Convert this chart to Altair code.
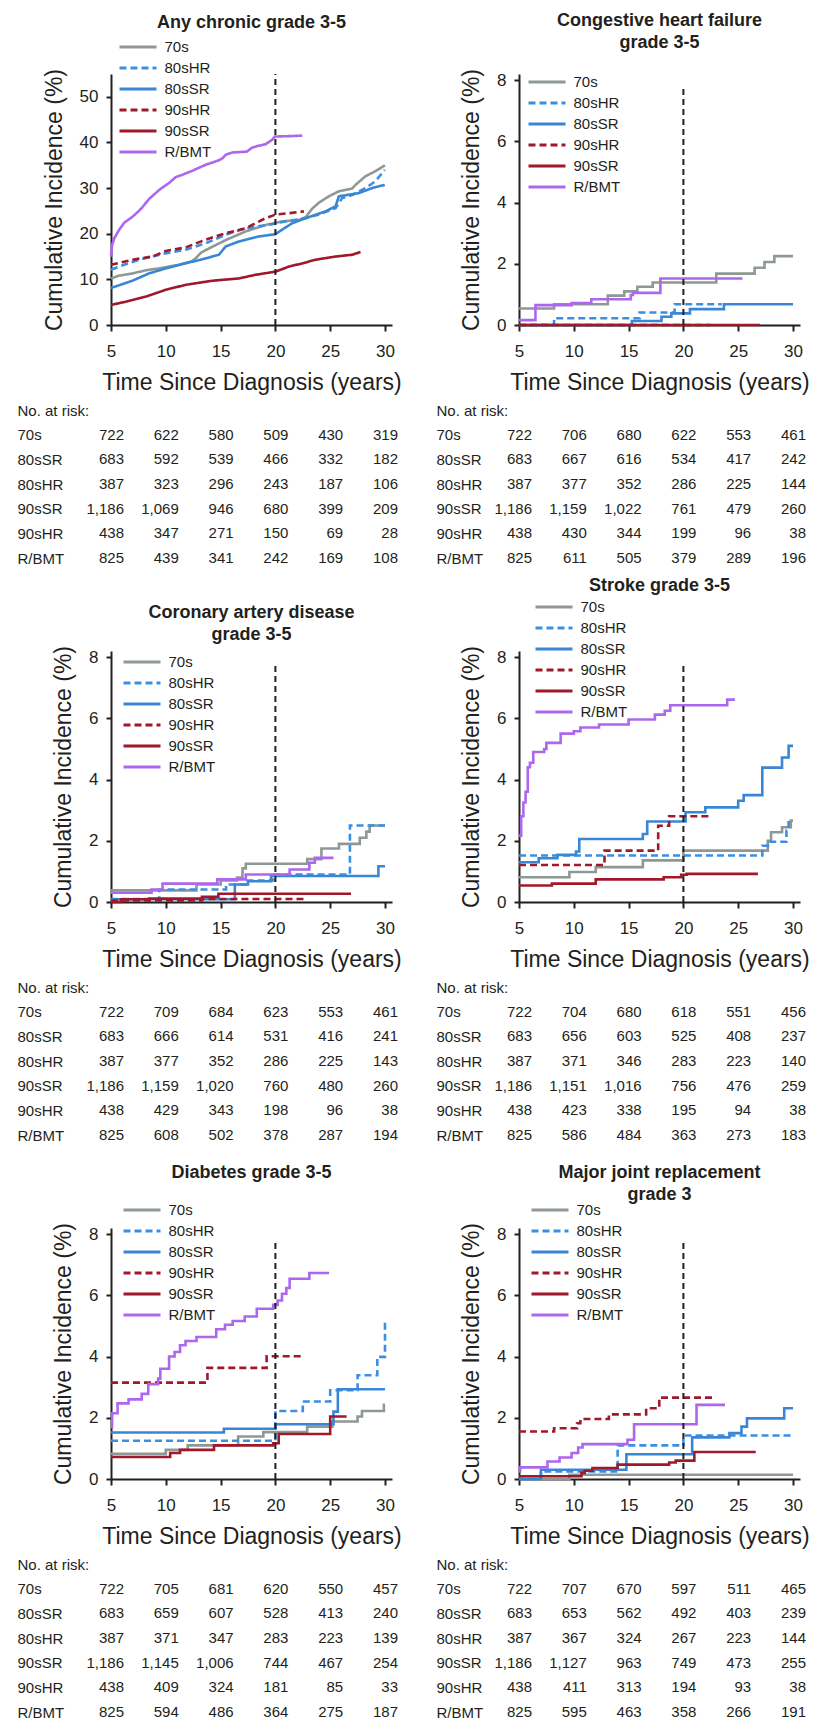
import altair as alt
import pandas as pd

FONT = "Liberation Sans, Arial, Helvetica, sans-serif"
INK = "#231f20"

GROUPS = ["70s", "80sHR", "80sSR", "90sHR", "90sSR", "R/BMT"]
COLORS = ["#8e9894", "#3b8fe2", "#3a86d6", "#a0192b", "#a0192b", "#ad66ee"]
DASHES = [[1, 0], [7, 4], [1, 0], [7, 4], [1, 0], [1, 0]]
X_TICKS = [5, 10, 15, 20, 25, 30]
RISK_ROWS = ["70s", "80sSR", "80sHR", "90sSR", "90sHR", "R/BMT"]
RISK_TIMES = [5, 10, 15, 20, 25, 30]

# ---------------- Any chronic grade 3-5 ----------------
chronic_70s = [(5, 10.2), (5.7, 10.8), (6.95, 11.3), (8.2, 12.0), (9.38, 12.4), (10.5, 12.9), (11.2, 13.2),
               (12.4, 14.0), (12.72, 14.6), (13.2, 15.8), (13.63, 16.4), (15.46, 18.6), (17.28, 20.5),
               (19.1, 21.9), (20.62, 22.7), (22.14, 23.0), (22.75, 23.6), (23.36, 25.5), (23.97, 26.8),
               (24.88, 28.2), (25.79, 29.3), (27.01, 29.9), (27.31, 30.7), (28.22, 32.6), (29.13, 33.7),
               (30.0, 35.0)]
chronic_80sHR = [(5, 12.1), (5.73, 12.8), (7.55, 14.3), (9.98, 15.7), (11.81, 16.5), (13.63, 17.9),
                 (15.46, 19.8), (17.28, 21.2), (19.71, 22.1), (20.93, 22.7), (22.75, 23.4), (23.97, 24.2),
                 (25.49, 25.6), (26.09, 27.8), (27.01, 28.5), (28.22, 30.0), (29.13, 31.5), (29.98, 34.0)]
chronic_80sSR = [(5, 8.1), (6.95, 9.7), (8.47, 11.3), (9.98, 12.4), (11.81, 13.5), (13.63, 14.6),
                 (14.85, 15.4), (15.46, 17.2), (16.67, 18.3), (18.5, 19.4), (20.0, 19.9), (20.62, 20.9),
                 (21.53, 22.3), (22.75, 23.4), (24.57, 24.9), (25.49, 26.0), (25.79, 28.2), (27.61, 28.9),
                 (28.83, 30.0), (29.98, 30.7)]
chronic_90sHR = [(5, 13.2), (6.95, 14.3), (8.77, 15.0), (9.98, 16.2), (11.81, 17.0), (13.63, 18.7),
                 (15.46, 20.1), (17.28, 21.2), (19.1, 23.4), (20.02, 24.2), (21.23, 24.5), (22.6, 24.9)]
chronic_90sSR = [(5, 4.4), (6.34, 5.1), (8.16, 6.2), (9.98, 7.7), (11.81, 8.8), (14.24, 9.7), (16.67, 10.2),
                 (18.19, 11.0), (20.02, 11.7), (21.23, 12.8), (22.45, 13.5), (23.66, 14.3), (25.49, 15.0),
                 (27.01, 15.4), (27.77, 16.0)]
chronic_rbmt = [(5, 15.0), (5.1, 17.5), (5.3, 19.0), (5.73, 20.8), (6.2, 22.4), (6.95, 23.7), (7.55, 25.0),
                (7.86, 25.8), (8.2, 26.8), (8.47, 27.6), (9.07, 28.9), (9.5, 29.8), (10.29, 31.1),
                (10.9, 32.4), (11.5, 32.9), (12.42, 33.8), (13.63, 35.1), (14.85, 36.1), (15.2, 36.6),
                (15.46, 37.3), (16.06, 37.8), (17.4, 38.0), (17.89, 38.9), (18.5, 39.3), (19.1, 39.6),
                (19.71, 40.6), (19.95, 41.3), (21.5, 41.4), (22.45, 41.5)]
chronic_risk = [[722, 622, 580, 509, 430, 319], [683, 592, 539, 466, 332, 182], [387, 323, 296, 243, 187, 106],
                [1186, 1069, 946, 680, 399, 209], [438, 347, 271, 150, 69, 28], [825, 439, 341, 242, 169, 108]]

# ---------------- Congestive heart failure ----------------
chf_70s = [(5, 0.54), (8.2, 0.68), (13.1, 0.96), (14.6, 1.1), (15.8, 1.25), (17.2, 1.39), (23.0, 1.68),
           (26.5, 1.87), (27.4, 2.06), (28.3, 2.25), (30, 2.25)]
chf_80sHR = [(5, 0), (8.2, 0.22), (16.0, 0.41), (19.2, 0.68), (23.5, 0.68)]
chf_80sSR = [(5, 0), (15.3, 0.13), (18.0, 0.27), (18.9, 0.38), (20.6, 0.52), (23.7, 0.68), (30, 0.68)]
chf_90sHR = [(5, 0), (22.5, 0)]
chf_90sSR = [(5, 0), (27.0, 0)]
chf_rbmt = [(5, 0.16), (6.5, 0.65), (9.8, 0.72), (11.6, 0.84), (15.2, 0.98), (15.4, 1.05), (17.9, 1.52),
            (25.4, 1.52)]
chf_risk = [[722, 706, 680, 622, 553, 461], [683, 667, 616, 534, 417, 242], [387, 377, 352, 286, 225, 144],
            [1186, 1159, 1022, 761, 479, 260], [438, 430, 344, 199, 96, 38], [825, 611, 505, 379, 289, 196]]

# ---------------- Coronary artery disease ----------------
cad_70s = [(5, 0.38), (12.8, 0.57), (15.0, 0.7), (16.5, 0.8), (17.0, 1.1), (17.3, 1.25), (22.9, 1.4),
           (24.2, 1.75), (25.8, 1.9), (27.7, 2.1), (28.3, 2.3), (28.6, 2.5), (30, 2.5)]
cad_80sHR = [(5, 0.1), (9.4, 0.41), (15.5, 0.57), (17.3, 0.7), (19.8, 0.9), (26.8, 2.5), (30, 2.5)]
cad_80sSR = [(5, 0.09), (16.3, 0.57), (17.5, 0.68), (19.6, 0.85), (29.4, 1.17), (30, 1.17)]
cad_90sHR = [(5, 0.05), (13.3, 0.1), (22.6, 0.1)]
cad_90sSR = [(5, 0), (5.9, 0.09), (8.5, 0.11), (13.3, 0.17), (14.8, 0.27), (26.9, 0.27)]
cad_rbmt = [(5, 0.3), (8.7, 0.41), (9.7, 0.6), (14.7, 0.74), (17.3, 0.9), (21.3, 1.06), (23.1, 1.28),
            (23.6, 1.44), (25.3, 1.44)]
cad_risk = [[722, 709, 684, 623, 553, 461], [683, 666, 614, 531, 416, 241], [387, 377, 352, 286, 225, 143],
            [1186, 1159, 1020, 760, 480, 260], [438, 429, 343, 198, 96, 38], [825, 608, 502, 378, 287, 194]]

# ---------------- Stroke ----------------
stroke_70s = [(5, 0.81), (9.6, 0.98), (12.0, 1.14), (16.3, 1.36), (20.0, 1.68), (27.7, 2.0), (28.0, 2.28),
              (29.0, 2.44), (29.8, 2.66), (30, 2.66)]
stroke_80sHR = [(5, 1.52), (27.2, 1.84), (27.9, 1.97), (29.4, 2.33), (29.6, 2.6), (30, 2.6)]
stroke_80sSR = [(5, 1.3), (6.8, 1.43), (8.5, 1.54), (10.2, 1.65), (10.5, 2.06), (16.3, 2.22), (16.7, 2.63),
                (20.2, 2.93), (22.0, 3.09), (25.0, 3.31), (25.5, 3.49), (27.2, 4.39), (29.0, 4.72),
                (29.6, 5.1), (30, 5.1)]
stroke_90sHR = [(5, 1.21), (12.8, 1.68), (17.7, 2.49), (18.7, 2.8), (22.6, 2.8)]
stroke_90sSR = [(5, 0.54), (8.0, 0.6), (12.0, 0.74), (18.2, 0.81), (19.8, 0.89), (20.3, 0.92), (26.8, 0.92)]
stroke_rbmt = [(5, 2.17), (5.2, 2.8), (5.4, 3.25), (5.6, 3.6), (5.8, 4.4), (6.0, 4.55), (6.3, 4.9),
               (7.3, 5.0), (7.5, 5.2), (8.8, 5.5), (10.0, 5.58), (10.6, 5.7), (12.3, 5.8), (15.0, 5.96),
               (17.4, 6.12), (18.3, 6.25), (18.8, 6.43), (24.0, 6.61), (24.7, 6.61)]
stroke_risk = [[722, 704, 680, 618, 551, 456], [683, 656, 603, 525, 408, 237], [387, 371, 346, 283, 223, 140],
               [1186, 1151, 1016, 756, 476, 259], [438, 423, 338, 195, 94, 38], [825, 586, 484, 363, 273, 183]]

# ---------------- Diabetes ----------------
diab_70s = [(5, 0.82), (10.0, 0.95), (12.0, 1.1), (16.6, 1.39), (18.9, 1.53), (22.9, 1.71), (25.2, 1.88),
            (27.5, 2.04), (27.9, 2.22), (29.9, 2.42), (30, 2.42)]
diab_80sHR = [(5, 1.25), (20.0, 2.22), (22.5, 2.53), (25.0, 2.9), (27.5, 3.39), (29.3, 3.99), (30, 5.13)]
diab_80sSR = [(5, 1.52), (15.3, 1.64), (20.0, 1.79), (25.3, 2.2), (25.7, 2.93), (30, 2.93)]
diab_90sHR = [(5, 3.15), (13.8, 3.63), (19.2, 4.01), (22.4, 4.01)]
diab_90sSR = [(5, 0.72), (10.4, 0.85), (11.3, 0.95), (14.4, 1.1), (19.8, 1.17), (20.3, 1.47), (25.0, 2.04),
              (26.5, 2.04)]
diab_rbmt = [(5, 1.7), (5.1, 2.15), (5.6, 2.47), (6.6, 2.6), (7.8, 2.78), (8.4, 3.1), (9.3, 3.28), (9.5, 3.6),
             (10.3, 4.0), (10.8, 4.15), (11.3, 4.37), (11.8, 4.51), (12.8, 4.64), (14.6, 4.89), (15.4, 5.04),
             (16.1, 5.16), (17.2, 5.31), (18.3, 5.56), (19.8, 5.69), (20.2, 5.83), (20.6, 6.05), (21.0, 6.24),
             (21.3, 6.54), (23.1, 6.73), (24.9, 6.73)]
diab_risk = [[722, 705, 681, 620, 550, 457], [683, 659, 607, 528, 413, 240], [387, 371, 347, 283, 223, 139],
             [1186, 1145, 1006, 744, 467, 254], [438, 409, 324, 181, 85, 33], [825, 594, 486, 364, 275, 187]]

# ---------------- Major joint replacement ----------------
joint_70s = [(5, 0), (9.6, 0.14), (30, 0.14)]
joint_80sHR = [(5, 0), (7.0, 0.25), (14.0, 1.1), (20.0, 1.42), (30, 1.42)]
joint_80sSR = [(5, 0), (7.0, 0.3), (14.8, 0.81), (20.8, 1.36), (24.2, 1.5), (25.3, 1.71), (25.8, 1.98),
               (29.2, 2.31), (30, 2.31)]
joint_90sHR = [(5, 1.55), (8.2, 1.66), (10.3, 1.82), (10.6, 1.96), (13.2, 2.11), (16.6, 2.31), (17.8, 2.66),
               (22.7, 2.66)]
joint_90sSR = [(5, 0.09), (10.7, 0.2), (11.0, 0.27), (11.7, 0.36), (14.0, 0.47), (18.7, 0.54), (19.3, 0.6),
               (21.0, 0.88), (26.6, 0.88)]
joint_rbmt = [(5, 0.25), (5.1, 0.38), (7.6, 0.57), (8.7, 0.7), (9.8, 0.85), (10.4, 1.03), (10.8, 1.14),
              (14.9, 1.28), (15.5, 1.79), (21.2, 2.42), (23.8, 2.42)]
joint_risk = [[722, 707, 670, 597, 511, 465], [683, 653, 562, 492, 403, 239], [387, 367, 324, 267, 223, 144],
              [1186, 1127, 963, 749, 473, 255], [438, 411, 313, 194, 93, 38], [825, 595, 463, 358, 266, 191]]

PLOT_W = 281
PLOT_H = 251
TABLE_H = 246
X_DOMAIN = [5, 30.64]


def curve_frame(series):
    rows = []
    for g, pts in zip(GROUPS, series):
        for t, v in pts:
            rows.append({"t": t, "v": v, "g": g})
    return pd.DataFrame(rows)


def make_plot(series, title_lines, title_offset, ymax, yticks, rule_top, lx, ly, interp):
    df = curve_frame(series)
    legend = alt.Legend(orient="none", legendX=lx, legendY=ly, title=None, symbolType="M-2,0L2,0",
                        symbolSize=342.25, symbolStrokeWidth=3, labelFontSize=15, labelFont=FONT,
                        labelColor=INK, labelOffset=15.5, rowPadding=2, padding=0)
    lines = alt.Chart(df).mark_line(interpolate=interp, strokeWidth=2.6).encode(
        x=alt.X("t:Q", scale=alt.Scale(domain=X_DOMAIN, nice=False, zero=False),
                axis=alt.Axis(values=X_TICKS, format="d", title="Time Since Diagnosis (years)",
                              labelFlush=False, labelPadding=12, titlePadding=12, tickSize=6)),
        y=alt.Y("v:Q", scale=alt.Scale(domain=[0, ymax], nice=False),
                axis=alt.Axis(values=yticks, format="d", title="Cumulative Incidence (%)",
                              labelPadding=8, titlePadding=13, tickSize=5)),
        color=alt.Color("g:N", scale=alt.Scale(domain=GROUPS, range=COLORS), legend=legend),
        strokeDash=alt.StrokeDash("g:N", scale=alt.Scale(domain=GROUPS, range=DASHES), legend=legend),
    )
    rule_df = pd.DataFrame({"t": [20], "v0": [0], "v1": [rule_top]})
    rule = alt.Chart(rule_df).mark_rule(color=INK, strokeDash=[6, 4], strokeWidth=2).encode(
        x="t:Q", y="v0:Q", y2="v1:Q")
    return alt.layer(lines, rule).properties(
        width=PLOT_W, height=PLOT_H,
        title=alt.TitleParams(text=title_lines, offset=title_offset, fontSize=18, fontWeight="bold",
                              font=FONT, color=INK, anchor="middle", frame="group", lineHeight=22))


def make_table(risk, label_pad):
    rows = []
    for i, vals in enumerate(risk):
        for t, n in zip(RISK_TIMES, vals):
            rows.append({"t": t, "r": i, "n": n})
    df = pd.DataFrame(rows)
    names = ["No. at risk:"] + RISK_ROWS
    label_expr = "[" + ",".join("'" + s + "'" for s in names) + "][datum.value + 1]"
    return alt.Chart(df).mark_text(align="right", dx=13, baseline="middle", fontSize=15, font=FONT,
                                   color=INK).encode(
        x=alt.X("t:Q", scale=alt.Scale(domain=X_DOMAIN, nice=False, zero=False), axis=None),
        y=alt.Y("r:Q", scale=alt.Scale(domain=[-2.822, 7.138], nice=False, zero=False, reverse=True),
                axis=alt.Axis(values=[-1, 0, 1, 2, 3, 4, 5], labelExpr=label_expr, domain=False, ticks=False,
                              grid=False, title=None, labelAlign="left", labelBaseline="middle",
                              labelPadding=label_pad, labelFontSize=15, labelOverlap=False)),
        text=alt.Text("n:Q", format=",d"),
    ).properties(width=PLOT_W, height=TABLE_H)


small_ticks = [0, 2, 4, 6, 8]
p1 = make_plot([chronic_70s, chronic_80sHR, chronic_80sSR, chronic_90sHR, chronic_90sSR, chronic_rbmt],
               ["Any chronic grade 3-5"], 4, 55, [0, 10, 20, 30, 40, 50], 55, 16, -38, "linear")
p2 = make_plot([chf_70s, chf_80sHR, chf_80sSR, chf_90sHR, chf_90sSR, chf_rbmt],
               ["Congestive heart failure", "grade 3-5"], 16, 8.2, small_ticks, 7.8, 17, -3, "step-after")
p3 = make_plot([cad_70s, cad_80sHR, cad_80sSR, cad_90sHR, cad_90sSR, cad_rbmt],
               ["Coronary artery disease", "grade 3-5"], 1.5, 8.2, small_ticks, 7.8, 20, 0, "step-after")
p4 = make_plot([stroke_70s, stroke_80sHR, stroke_80sSR, stroke_90sHR, stroke_90sSR, stroke_rbmt],
               ["Stroke grade 3-5"], 1, 8.2, small_ticks, 7.8, 24, -55, "step-after")
p5 = make_plot([diab_70s, diab_80sHR, diab_80sSR, diab_90sHR, diab_90sSR, diab_rbmt],
               ["Diabetes grade 3-5"], 17, 8.2, small_ticks, 7.8, 20, -29, "step-after")
p6 = make_plot([joint_70s, joint_80sHR, joint_80sSR, joint_90sHR, joint_90sSR, joint_rbmt],
               ["Major joint replacement", "grade 3"], -5, 8.2, small_ticks, 7.8, 20, -29, "step-after")

t1 = make_table(chronic_risk, 94)
t2 = make_table(chf_risk, 83)
t3 = make_table(cad_risk, 94)
t4 = make_table(stroke_risk, 83)
t5 = make_table(diab_risk, 94)
t6 = make_table(joint_risk, 83)

chart = alt.concat(p1, p2, t1, t2, p3, p4, t3, t4, p5, p6, t5, t6, columns=2,
                   spacing={"row": 40, "column": 127}, bounds="flush").resolve_scale(
    x="independent", y="independent", color="independent", strokeDash="independent"
).resolve_legend(color="independent", strokeDash="independent").properties(
    padding={"left": 9, "top": 4, "right": 0, "bottom": 0}
).configure(font=FONT).configure_view(stroke=None).configure_axis(
    grid=False, domainColor=INK, domainWidth=2, tickColor=INK, tickWidth=2, labelColor=INK,
    labelFont=FONT, labelFontSize=17, titleFont=FONT, titleFontSize=23, titleFontWeight="normal",
    titleColor=INK
)

chart.save("out.html", embed_options={"renderer": "svg", "actions": False})
